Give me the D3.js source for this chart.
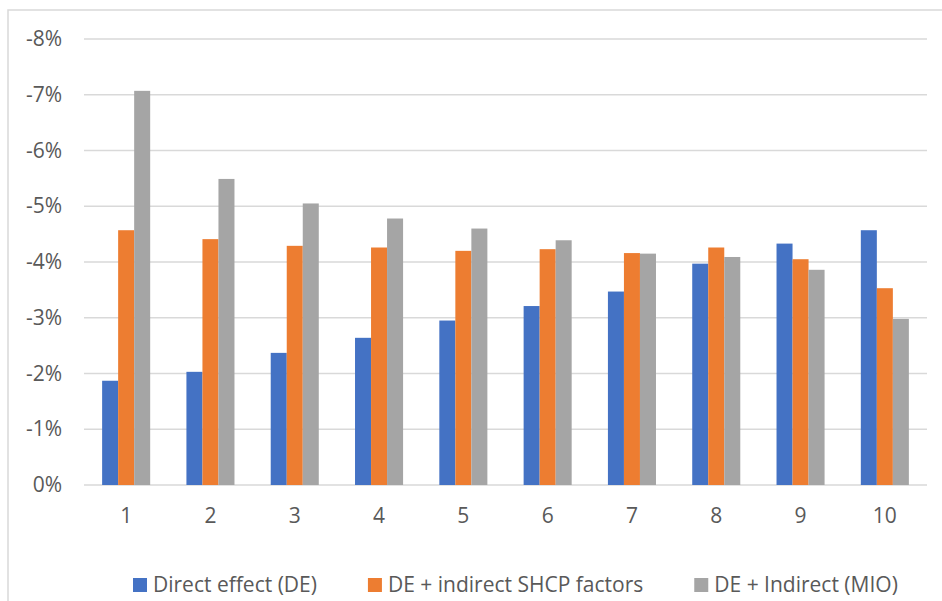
<!DOCTYPE html>
<html>
<head>
<meta charset="utf-8">
<script src="https://d3js.org/d3.v7.min.js"></script>
<style>
    body { margin: 0; background: #ffffff; }
    text { font-family: "Open Sans", "Noto Sans", sans-serif; fill: #595959; }
</style>
</head>
<body>
<svg id="bar-chart"></svg>
<script>

// categories (x axis)
const categories = ['1', '2', '3', '4', '5', '6', '7', '8', '9', '10'];

// series names, same order as the legend
const seriesNames = ['Direct effect (DE)', 'DE + indirect SHCP factors', 'DE + Indirect (MIO)'];

// values in percent
const directEffect = [-1.87, -2.03, -2.37, -2.64, -2.95, -3.21, -3.47, -3.97, -4.33, -4.57];
const shcpFactors = [-4.57, -4.41, -4.29, -4.26, -4.20, -4.23, -4.16, -4.26, -4.05, -3.53];
const indirectMIO = [-7.07, -5.49, -5.05, -4.78, -4.60, -4.39, -4.15, -4.09, -3.86, -2.98];

// y tick labels
const yTicks = [0, -1, -2, -3, -4, -5, -6, -7, -8];

const colors = ['#4472C4', '#ED7D31', '#A5A5A5'];

class BarChart {

    constructor() {
        this.vizWidth = 942;
        this.vizHeight = 601;
        this.margin = { left: 84, right: 15, top: 39, bottom: 116 };

        this.svg = d3.select('#bar-chart')
            .attr('width', this.vizWidth)
            .attr('height', this.vizHeight);

        // light frame round the chart (runs off right / bottom edge)
        this.svg.append('rect')
            .attr('x', 8)
            .attr('y', 10)
            .attr('width', 1000)
            .attr('height', 700)
            .attr('fill', '#ffffff')
            .attr('stroke', '#D9D9D9')
            .attr('stroke-width', 1.5);

        this.rows = categories.map((c, i) => ({
            cat: c,
            values: [directEffect[i], shcpFactors[i], indirectMIO[i]]
        }));

        this.makeScales();
        this.drawGrid();
        this.drawBars();
        this.drawAxes();
        this.drawLegend();
    }

    makeScales() {
        this.xScale = d3.scaleBand()
            .domain(categories)
            .range([this.margin.left, this.vizWidth - this.margin.right])
            .paddingInner(0.43)
            .paddingOuter(0.215);

        this.xSub = d3.scaleBand()
            .domain(d3.range(seriesNames.length))
            .range([0, this.xScale.bandwidth()])
            .padding(0);

        // more negative goes up
        this.yScale = d3.scaleLinear()
            .domain([0, -8])
            .range([this.vizHeight - this.margin.bottom, this.margin.top]);
    }

    drawGrid() {
        this.svg.append('g')
            .selectAll('line')
            .data(yTicks)
            .join('line')
            .attr('x1', this.margin.left)
            .attr('x2', this.vizWidth - this.margin.right)
            .attr('y1', d => this.yScale(d))
            .attr('y2', d => this.yScale(d))
            .attr('stroke', '#D9D9D9')
            .attr('stroke-width', 1.3);
    }

    drawBars() {
        let groups = this.svg.append('g')
            .selectAll('g')
            .data(this.rows)
            .join('g')
            .attr('transform', d => 'translate(' + this.xScale(d.cat) + ',0)');

        groups.selectAll('rect')
            .data(d => d.values.map((v, i) => ({ v: v, i: i })))
            .join('rect')
            .attr('x', d => this.xSub(d.i))
            .attr('width', this.xSub.bandwidth())
            .attr('y', d => this.yScale(d.v))
            .attr('height', d => this.yScale(0) - this.yScale(d.v))
            .attr('fill', d => colors[d.i]);
    }

    drawAxes() {
        let yAxis = d3.axisLeft(this.yScale)
            .tickValues(yTicks)
            .tickSize(0)
            .tickPadding(22)
            .tickFormat(d => d + '%');

        let yg = this.svg.append('g')
            .attr('transform', 'translate(' + this.margin.left + ',0)')
            .call(yAxis);
        yg.select('.domain').remove();
        yg.attr('font-size', 21).attr('font-family', null);

        let xAxis = d3.axisBottom(this.xScale)
            .tickSize(0)
            .tickPadding(23);

        let xg = this.svg.append('g')
            .attr('transform', 'translate(0,' + this.yScale(0) + ')')
            .call(xAxis);
        xg.select('.domain').remove();
        xg.attr('font-size', 21).attr('font-family', null);

        this.svg.selectAll('.tick text').attr('fill', '#595959');
    }

    drawLegend() {
        // entries laid out one after another, even gap between them
        let legend = this.svg.append('g')
            .attr('transform', 'translate(133,578)');

        let x = 0;
        seriesNames.forEach((name, i) => {
            let item = legend.append('g')
                .attr('transform', 'translate(' + x + ',0)');

            item.append('rect')
                .attr('width', 14)
                .attr('height', 14)
                .attr('fill', colors[i]);

            let t = item.append('text')
                .attr('x', 20)
                .attr('y', 14)
                .attr('font-size', 21)
                .text(name);

            x += 20 + t.node().getComputedTextLength() + 51;
        });
    }
}

new BarChart();

</script>
</body>
</html>
